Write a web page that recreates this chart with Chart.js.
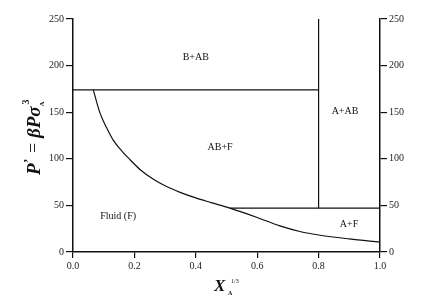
<!DOCTYPE html>
<html><head><meta charset="utf-8">
<script src="https://cdn.jsdelivr.net/npm/chart.js@4/dist/chart.umd.min.js"></script>
<style>html,body{margin:0;padding:0;background:#fff;}#wrap{width:436px;height:305px;}</style>
</head><body><div id="wrap"><canvas id="c" width="436" height="305"></canvas></div>
<script>
// Phase boundary data
const curveX = [0.066, 0.088, 0.11, 0.131, 0.16, 0.186, 0.22, 0.262, 0.30, 0.349, 0.40, 0.45, 0.511, 0.60, 0.674, 0.739, 0.805, 0.90, 1.0];
const curveY = [174, 149, 133, 120, 108, 99, 88, 78, 71, 64, 58, 53, 47, 37, 28, 22, 18, 14, 10.5];
const upperLineX = [0.0, 0.80];
const upperLineY = [174, 174];
const verticalLineX = [0.80, 0.80];
const verticalLineY = [250, 47];
const lowerLineX = [0.511, 1.0];
const lowerLineY = [47, 47];
const regionLabels = ["B+AB", "A+AB", "AB+F", "Fluid (F)", "A+F"];
const regionX = [0.40, 0.886, 0.479, 0.147, 0.899];
const regionY = [209, 151, 112.6, 38.6, 30];
const xTicks = [0.0, 0.2, 0.4, 0.6, 0.8, 1.0];
const yTicks = [0, 50, 100, 150, 200, 250];

const pts = (xs, ys) => xs.map((x, i) => ({x: x, y: ys[i]}));
const lineStyle = {showLine: true, borderColor: '#111', borderWidth: 1.2, pointRadius: 0, fill: false};

const SERIF = '"Liberation Serif", "DejaVu Serif", serif';

const textPlugin = {
  id: 'texts',
  afterDraw(chart) {
    const ctx = chart.ctx, xs = chart.scales.x, ys = chart.scales.y;
    ctx.save();
    ctx.fillStyle = '#111';
    ctx.textAlign = 'center';
    ctx.textBaseline = 'middle';
    ctx.font = '10px ' + SERIF;
    regionLabels.forEach((t, i) => {
      ctx.fillText(t, xs.getPixelForValue(regionX[i]), ys.getPixelForValue(regionY[i]));
    });
    // x axis title: X_A^{1/3}
    ctx.textAlign = 'left';
    ctx.textBaseline = 'alphabetic';
    ctx.font = 'bold italic 17px ' + SERIF;
    ctx.fillText('X', 214, 291);
    ctx.font = 'bold 6px ' + SERIF;
    ctx.fillText('A', 228, 295);
    ctx.font = '6px ' + SERIF;
    ctx.fillText('1/3', 231, 283);
    // y axis title: P' = βPσ_A^3 rotated
    ctx.translate(40, 129);
    ctx.rotate(-Math.PI / 2);
    ctx.textAlign = 'left';
    ctx.font = 'bold italic 19px ' + SERIF;
    ctx.fillText('P', -46, 0);
    ctx.font = 'bold 13px ' + SERIF;
    ctx.fillText('\u2019', -34, -8);
    ctx.font = '18px ' + SERIF;
    ctx.textAlign = 'center';
    ctx.fillText('=', -19, -1);
    ctx.textAlign = 'left';
    ctx.font = 'bold italic 19px ' + SERIF;
    ctx.fillText('\u03B2P\u03C3', -9, 0);
    const sx = -9 + ctx.measureText('\u03B2P\u03C3').width;
    ctx.font = 'bold 7px ' + SERIF; ctx.fillText('A', sx, 4);
    ctx.font = 'bold 10px ' + SERIF; ctx.fillText('3', sx + 2, -11);
    ctx.restore();
  }
};

const tickFont = {family: SERIF, size: 10};
new Chart(document.getElementById('c'), {
  type: 'scatter',
  data: {
    datasets: [
      Object.assign({data: pts(upperLineX, upperLineY)}, lineStyle),
      Object.assign({data: pts(verticalLineX, verticalLineY)}, lineStyle),
      Object.assign({data: pts(lowerLineX, lowerLineY)}, lineStyle),
      Object.assign({data: pts(curveX, curveY), cubicInterpolationMode: 'monotone'}, lineStyle)
    ]
  },
  options: {
    responsive: false,
    animation: false,
    layout: {padding: {top: 19, left: 0, right: 0, bottom: 0}},
    plugins: {legend: {display: false}, tooltip: {enabled: false}},
    scales: {
      x: {
        type: 'linear', min: 0, max: 1,
        afterBuildTicks: s => { s.ticks = xTicks.map(v => ({value: v})); },
        afterFit: s => { s.height = 53; },
        ticks: {font: tickFont, color: '#222', padding: 2, callback: v => Number(v).toFixed(1)},
        grid: {drawOnChartArea: false, drawTicks: true, tickLength: 6, color: '#111', lineWidth: 1.2},
        border: {display: true, color: '#111', width: 1.5}
      },
      y: {
        type: 'linear', position: 'left', min: 0, max: 250,
        afterBuildTicks: s => { s.ticks = yTicks.map(v => ({value: v})); },
        afterFit: s => { s.width = 73; },
        ticks: {font: tickFont, color: '#222', padding: 2},
        grid: {drawOnChartArea: false, drawTicks: true, tickLength: 7, color: '#111', lineWidth: 1.2},
        border: {display: true, color: '#111', width: 1.5}
      },
      y2: {
        type: 'linear', position: 'right', min: 0, max: 250,
        afterBuildTicks: s => { s.ticks = yTicks.map(v => ({value: v})); },
        afterFit: s => { s.width = 56; },
        ticks: {font: tickFont, color: '#222', padding: 2},
        grid: {drawOnChartArea: false, drawTicks: true, tickLength: 7, color: '#111', lineWidth: 1.2},
        border: {display: true, color: '#111', width: 1.5}
      }
    }
  },
  plugins: [textPlugin]
});
</script>
</body></html>
